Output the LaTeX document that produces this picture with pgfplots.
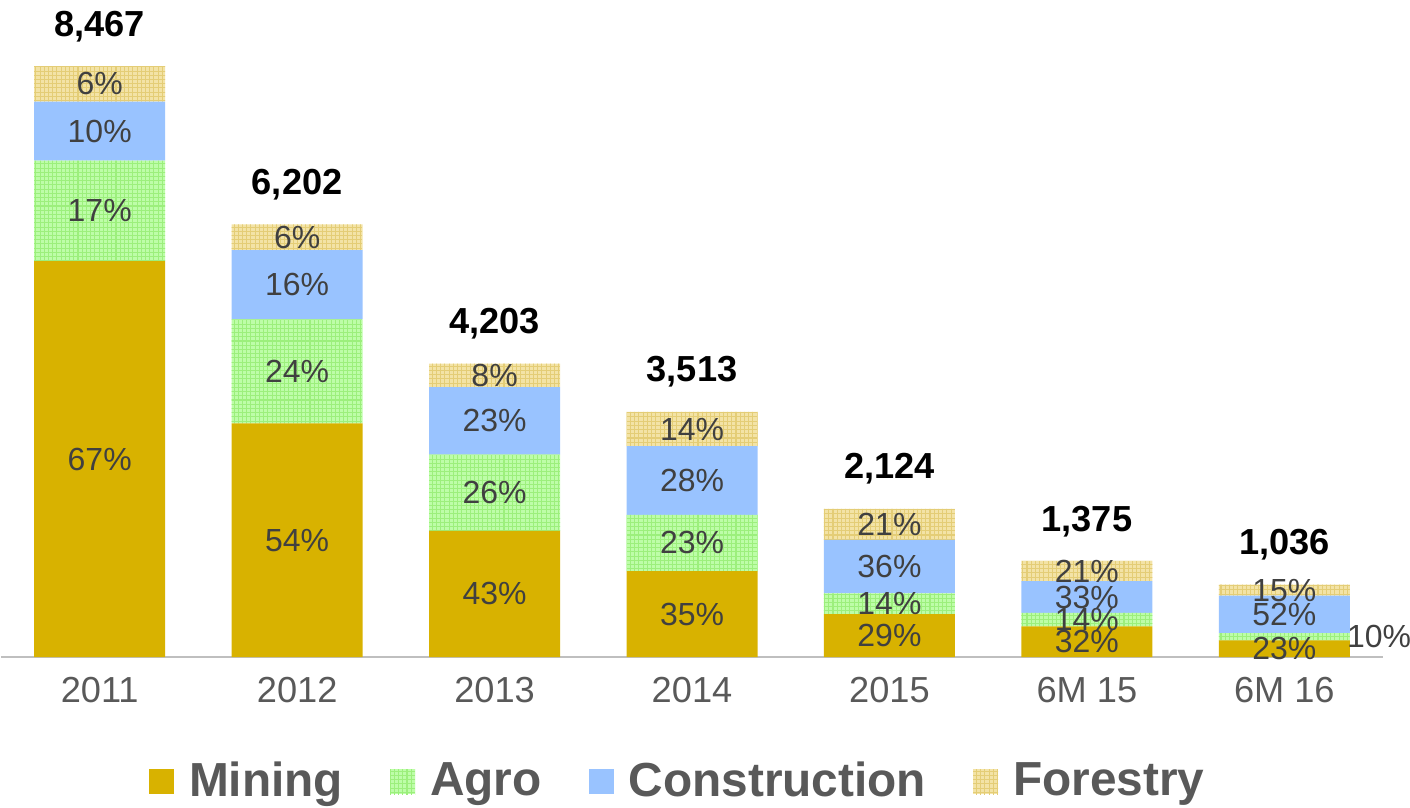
\documentclass[border=0pt]{standalone}
\usepackage{pgfplots}
\pgfplotsset{compat=1.18}
\usepackage{pgfplotstable}
\usepackage{fontspec}
\setmainfont{Liberation Sans}
\usetikzlibrary{patterns.meta}
\definecolor{mining}{HTML}{D8B200}
\definecolor{agro}{HTML}{BDFDA8}
\definecolor{agrogrid}{HTML}{9CEF7C}
\definecolor{constr}{HTML}{99C3FF}
\definecolor{forest}{HTML}{F3E3A6}
\definecolor{forestgrid}{HTML}{E4CD76}
\definecolor{lbl}{HTML}{404040}
\definecolor{tick}{HTML}{595959}
\definecolor{base}{HTML}{BFBFBF}

\pgfdeclarepattern{name=finegrid, type=uncolored,
  bottom left={\pgfpoint{-0.1pt}{-0.1pt}}, top right={\pgfpoint{1.3pt}{1.3pt}},
  tile size={\pgfpoint{1.2pt}{1.2pt}},
  code={\pgfsetlinewidth{0.3pt}
    \pgfpathmoveto{\pgfpoint{0pt}{0.6pt}}\pgfpathlineto{\pgfpoint{1.2pt}{0.6pt}}
    \pgfpathmoveto{\pgfpoint{0.6pt}{0pt}}\pgfpathlineto{\pgfpoint{0.6pt}{1.2pt}}
    \pgfusepath{stroke}}}

% values (absolute, = share x total)
\pgfplotstableread{
x  mining agro constr forest
0  5673   1439 847    508
1  3349   1488 992    372
2  1807   1093 967    336
3  1230   808  984    492
4  616    297  765    446
5  440    193  454    289
6  238    104  539    155
}\datatable

% in-bar share labels at segment mid-heights
\pgfplotstableread{
x     y       lab
0     2836.5  67
0     6392.5  17
0     7535.5  10
0     8213    6
1     1674.5  54
1     4093    24
1     5333    16
1     6016    6
2     903.5   43
2     2353.5  26
2     3383.5  23
2     4035    8
3     615     35
3     1634    23
3     2530    28
3     3267    14
4     308     29
4     764.5   14
4     1295.5  36
4     1901    21
5     220     32
5     536.5   14
5     860     33
5     1230.5  21
6     119     23
6.48  290     10
6     611.5   52
6     958.5   15
}\sharetable

\pgfplotstableread{
x  y     lab
0  8467  8,467
1  6202  6,202
2  4203  4,203
3  3513  3,513
4  2124  2,124
5  1375  1,375
6  1036  1,036
}\totaltable

\pgfplotsset{common/.style={
  scale only axis, width=13.82cm, height=6.56cm,
  xmin=-0.5, xmax=6.5, ymin=0, ymax=9400,
  enlargelimits=false, clip=false,
}}

\begin{document}
\begin{tikzpicture}
\begin{axis}[common, name=main,
  ybar stacked, bar width=1.31cm,
  axis y line=none, axis x line*=bottom,
  x axis line style={-, color=base, line width=0.7pt},
  xtick={0,...,6},
  xticklabels={2011,2012,2013,2014,2015,6M 15,6M 16},
  major tick length=0pt,
  xticklabel style={font=\fontsize{10.3}{12}\selectfont, text=tick, anchor=north, yshift=-0.08cm},
  legend columns=4,
  legend style={at={(0.4915,-0.1905)}, anchor=center, draw=none, fill=none,
    font=\bfseries\fontsize{13.6}{16}\selectfont, text=tick,
    /tikz/every odd column/.append style={column sep=0.08cm},
    /tikz/every even column/.append style={column sep=0.4cm},
    inner sep=0pt},
  legend image code/.code={\draw[#1, draw=none] (0cm,-0.125cm) rectangle (0.25cm,0.125cm);},
]
\addplot[fill=mining, draw=none] table[x=x, y=mining] {\datatable};
\addplot[fill=agro, draw=none, postaction={pattern=finegrid, pattern color=agrogrid}] table[x=x, y=agro] {\datatable};
\addplot[fill=constr, draw=none] table[x=x, y=constr] {\datatable};
\addplot[fill=forest, draw=none, postaction={pattern=finegrid, pattern color=forestgrid}] table[x=x, y=forest] {\datatable};
\legend{Mining, Agro, Construction, Forestry}
\end{axis}
\begin{axis}[common, axis lines=none]
\addplot[draw=none, mark=none, point meta=explicit symbolic,
  nodes near coords={\pgfplotspointmeta\%},
  every node near coord/.append style={anchor=center, inner sep=0pt,
    font=\fontsize{9.1}{11}\selectfont, text=lbl}]
  table[x=x, y=y, meta=lab] {\sharetable};
\addplot[draw=none, mark=none, point meta=explicit symbolic,
  nodes near coords={\pgfplotspointmeta},
  every node near coord/.append style={anchor=base, inner sep=0pt, yshift=0.3cm,
    font=\bfseries\fontsize{10.3}{12}\selectfont, text=black}]
  table[x=x, y=y, meta=lab] {\totaltable};
\end{axis}
\pgfresetboundingbox
\path ([shift={(-0.01cm,-1.50cm)}]main.south west) rectangle ([shift={(14.09cm,6.57cm)}]main.south west);
\end{tikzpicture}
\end{document}
